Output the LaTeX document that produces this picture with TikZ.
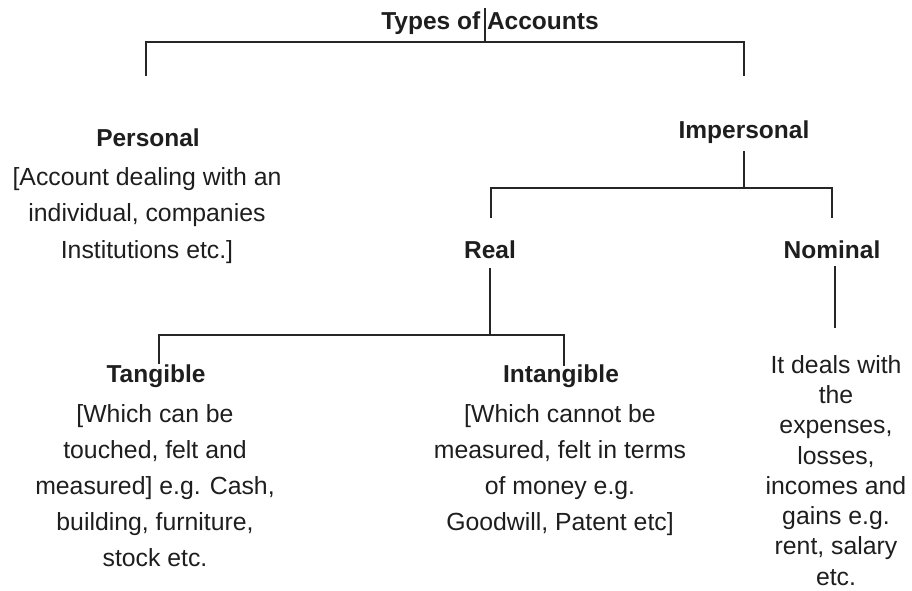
\documentclass[tikz,border=0pt]{standalone}
\usepackage{fontspec}
\setmainfont{Liberation Sans}
\definecolor{ink}{HTML}{1E1E1E}
\definecolor{wire}{HTML}{262626}
\begin{document}
\begin{tikzpicture}[x=1pt,y=-1pt,
  conn/.style={draw=wire,line width=1.2pt},
  head/.style={font=\fontsize{24.5}{28}\selectfont\bfseries,text=ink,inner sep=0pt,anchor=base},
  body/.style={font=\fontsize{24.8}{36}\selectfont,text=ink,align=center,inner sep=0pt,anchor=north}]
\useasboundingbox (0,0) rectangle (912,590);
% text nodes
\node[head] (title) at (490,29) {Types of Accounts};
\node[head] (personal) at (148,146) {Personal};
\node[body,font=\fontsize{24.8}{36.5}\selectfont] (personalText) at (147,167) {[Account dealing with an\\individual, companies\\Institutions etc.]};
\node[head] (impersonal) at (744,138) {Impersonal};
\node[head] (real) at (490,258) {Real};
\node[head] (nominal) at (832,258) {Nominal};
\node[head] (tangible) at (156,382) {Tangible};
\node[body] (tangibleText) at (155,404) {[Which can be\\touched, felt and\\measured] e.g. Cash,\\building, furniture,\\stock etc.};
\node[head] (intangible) at (561,382) {Intangible};
\node[body] (intangibleText) at (560,404) {[Which cannot be\\measured, felt in terms\\of money e.g.\\Goodwill, Patent etc]};
\node[body,font=\fontsize{24.8}{30.3}\selectfont] (nominalText) at (836,355) {It deals with\\the\\expenses,\\losses,\\incomes and\\gains e.g.\\rent, salary\\etc.};
% junction coordinates
\coordinate (t0) at (485,8);
\coordinate (t1) at (485,42);
\coordinate (pl) at (146,42);
\coordinate (pe) at (146,76);
\coordinate (il) at (744,42);
\coordinate (ie) at (744,76);
\coordinate (i0) at (744,151);
\coordinate (i1) at (744,188);
\coordinate (rl) at (491,188);
\coordinate (re) at (491,218);
\coordinate (nl) at (832,188);
\coordinate (ne) at (832,218);
\coordinate (r0) at (490,268);
\coordinate (r1) at (490,335);
\coordinate (tl) at (159,335);
\coordinate (te) at (159,364);
\coordinate (gl) at (564,335);
\coordinate (ge) at (564,366);
\coordinate (n0) at (835,266);
\coordinate (n1) at (835,328);
% connectors
\draw[conn] (t0) -- (t1);
\draw[conn] (pe) -- (pl) -- (il) -- (ie);
\draw[conn] (i0) -- (i1);
\draw[conn] (re) -- (rl) -- (nl) -- (ne);
\draw[conn] (r0) -- (r1);
\draw[conn] (te) -- (tl) -- (gl) -- (ge);
\draw[conn] (n0) -- (n1);
\end{tikzpicture}
\end{document}
